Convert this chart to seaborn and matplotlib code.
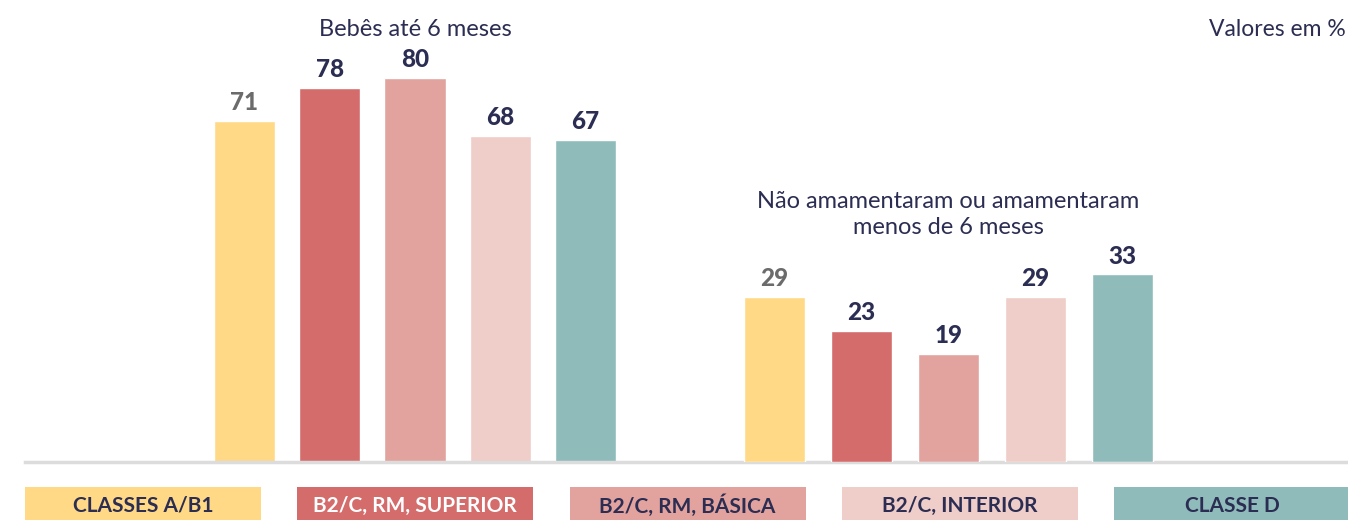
import matplotlib
matplotlib.use("Agg")
import matplotlib.pyplot as plt
import seaborn as sns
import pandas as pd
from matplotlib.patches import Rectangle

# data
groups = ["Bebês até 6 meses", "Não amamentaram ou amamentaram\nmenos de 6 meses"]
categories = ["CLASSES A/B1", "B2/C, RM, SUPERIOR", "B2/C, RM, BÁSICA", "B2/C, INTERIOR", "CLASSE D"]
bebes_6_meses = [71, 78, 80, 68, 67]
nao_amamentaram = [29, 23, 19, 29, 33]

colors = ["#FFD985", "#D46C6C", "#E2A39F", "#EFCDC8", "#90BBBB"]
navy = "#2b2d52"
value_colors = ["#6b6b6b", navy, navy, navy, navy]
legend_text_colors = [navy, "white", navy, navy, navy]

df1 = pd.DataFrame({"grupo": groups[0], "classe": categories, "valor": bebes_6_meses})
df2 = pd.DataFrame({"grupo": groups[1], "classe": categories, "valor": nao_amamentaram})

sns.set_theme(style="white")
plt.rcParams["font.family"] = ["Lato", "DejaVu Sans"]

W, H = 1348, 520
fig = plt.figure(figsize=(W / 100, H / 100), dpi=100)
rect = [25 / W, (H - 462) / H, 1 - 25 / W, 462 / H]
ax = fig.add_axes(rect)
# the second group uses its own scale in the original chart
ax2 = fig.add_axes(rect, facecolor="none")

for a, d, top, xlim, gap in [(ax, df1, 96.25, (-0.731, 1.749), 0.28),
                             (ax2, df2, 81.3, (-0.697, 1.734), 0.30)]:
    sns.barplot(data=d, x="grupo", y="valor", hue="classe", order=groups,
                hue_order=categories, palette=colors, width=0.8, gap=gap,
                saturation=1, legend=False, ax=a)
    a.set_xlim(*xlim)
    a.set_ylim(0, top)
    for i, cont in enumerate(a.containers):
        a.bar_label(cont, fmt="%d", padding=5, fontsize=17.5, fontweight="black",
                    color=value_colors[i])
    a.set_xlabel("")
    a.set_ylabel("")
    a.set_xticks([])
    a.set_yticks([])
    for s in ["top", "left", "right", "bottom"]:
        a.spines[s].set_visible(False)

ax.spines["bottom"].set_visible(True)
ax.spines["bottom"].set_color("#dcdcdc")
ax.spines["bottom"].set_linewidth(2.5)

# group titles
ax.text(0, 90.2, groups[0], ha="center", va="center", fontsize=17, color=navy)
ax.text(1, 51.6, groups[1], ha="center", va="center", fontsize=17, color=navy,
        linespacing=1.3)

fig.text(1346 / W, 1 - 29 / H, "Valores em %", ha="right", va="center",
         fontsize=16.5, color=navy)

# legend boxes along the bottom
box_w, box_h, box_y = 236, 33, 487
for i, cat in enumerate(categories):
    left = 25 + i * 272.25
    fig.patches.append(Rectangle((left / W, 1 - (box_y + box_h) / H), box_w / W, box_h / H,
                                 transform=fig.transFigure, facecolor=colors[i],
                                 edgecolor="none"))
    fig.text((left + box_w / 2) / W, 1 - (box_y + box_h / 2 + 2) / H, cat,
             ha="center", va="center", fontsize=15, fontweight="bold",
             color=legend_text_colors[i])

fig.savefig("out.png", dpi=100)
